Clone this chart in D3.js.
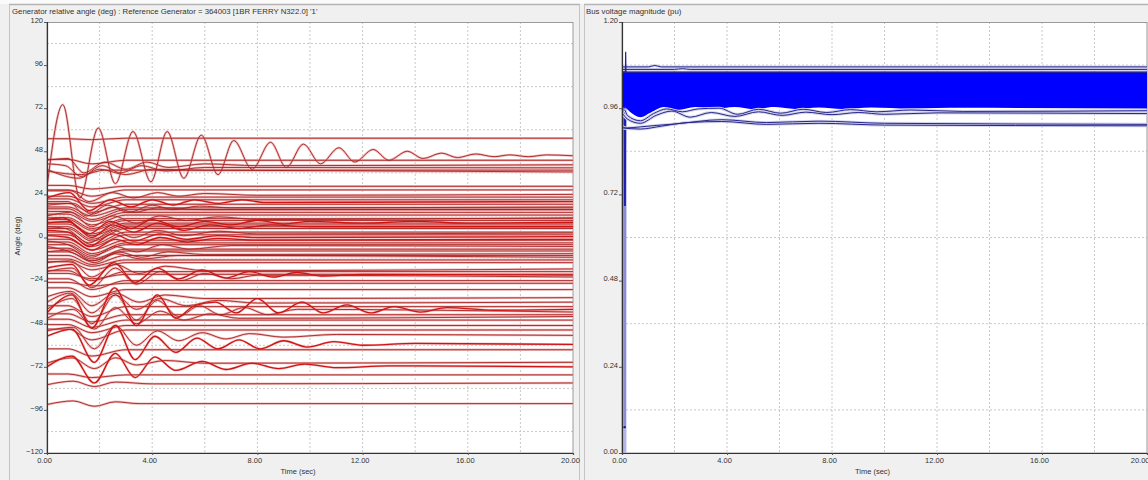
<!DOCTYPE html>
<html><head><meta charset="utf-8">
<script src="https://cdn.jsdelivr.net/npm/d3@7"></script>
<style>
html,body{margin:0;padding:0;background:#f0f0f0;}
svg{display:block;font-family:"Liberation Sans",Arial,sans-serif;}
</style></head>
<body><svg id="c" width="1148" height="480"></svg>
<script>
// ---------------- DATA ----------------
const timeTicks = [0, 4, 8, 12, 16, 20];
const angleTicks = [120, 96, 72, 48, 24, 0, -24, -48, -72, -96, -120];
const voltTicks = [1.20, 0.96, 0.72, 0.48, 0.24, 0.00];
const leftTitle = "Generator relative angle (deg) : Reference Generator = 364003 [1BR FERRY N322.0] '1'";
const rightTitle = "Bus voltage magnitude (pu)";

// near-flat generator angle traces: [start, value at first swing (~1.7 s), settled]
const angleFlatStart  = [55, 43.5, 29, 26.5, 23, 21.5, 19, 17, 16, 14.5, 13, 11, 10, 8.5, 7.5, 6, 5, 3, 1.5, -1, -2.5, -4, -6, -8, -10, -12, -13.5, -18.5, -20, -23, -25, -28, -38, -42.5, -45.5, -48.5, -51, -62, -76];
const angleFlatSwing  = [54.5, 41, 27, 23, 19, 17, 14, 12, 10, 9, 7, 5, 4, 2, 1, -1, -2, -4, -5, -7, -9, -10, -12, -13, -15, -16, -18, -24, -23, -29, -27, -33, -44, -47, -50, -53, -57, -66, -78];
const angleFlatSettle = [55.3, 43, 28.5, 26.5, 22.5, 21, 18.5, 16.5, 15.5, 14, 12.5, 10.5, 9.5, 8, 7, 6, 5, 3, 1.5, -1.5, -3, -4, -6.5, -7.5, -10, -12.5, -14, -19, -20.5, -24, -25.5, -29, -38.5, -43, -46, -49, -51.5, -62.5, -76.5];

// oscillating generator angle traces [time s, angle deg]
const genBigSwing = [[0,28],[0.6,74],[1.25,22],[1.95,61],[2.6,30],[3.27,59],[3.95,31],[4.57,59],[5.2,33],[5.87,57],[6.5,35],[7.1,54],[7.8,38],[8.5,53],[9.1,39],[9.75,52],[10.4,41],[11.1,50],[11.7,42],[12.4,49],[13.0,43],[13.7,48],[14.3,44],[15.0,47],[15.6,44.5],[16.3,46.5],[17,45],[17.6,46],[18.3,45],[19,46],[20,45.5]];
const gen40a = [[0,43],[0.8,44],[1.4,36],[2.2,42],[3,38],[3.8,42],[4.6,39],[6,41],[8,40],[20,40.5]];
const gen40b = [[0,41],[0.7,40],[1.3,34],[2.1,40],[2.8,36],[3.6,40],[4.5,37],[6,39],[20,38.8]];
const gen40c = [[0,38],[1.2,33],[2,38],[3,35],[4,38],[6,37.5],[20,37.5]];
const gen40d = [[0,37],[1.3,35],[2.2,37.5],[20,36.5]];
const gen25 = [[0,26],[0.9,26],[1.6,20],[2.5,25],[3.3,22],[4.2,25],[5,23],[6,24.5],[8,23.5],[20,24]];
const gen20a = [[0,22],[0.85,25],[1.6,15],[2.4,21],[3.2,17],[4,21],[4.8,18],[5.6,21],[6.5,19],[7.4,21],[8.3,19.5],[20,20]];
const gen20b = [[0,20],[0.8,20],[1.5,12],[2.3,18],[3.1,14],[4,18],[4.8,15.5],[5.8,17.5],[7,16.5],[20,17]];
const gen15 = [[0,18],[1,19],[1.7,13],[2.5,17],[3.3,14],[4.2,16.5],[6,15.5],[20,15.5]];
const gen12 = [[0,12],[0.9,14],[1.7,6],[2.5,12],[3.4,8],[4.3,12],[5.3,9.5],[6.5,11.5],[8,10],[20,11]];
const gen9 = [[0,10],[0.6,11],[1.6,2],[2.4,9],[3.2,5],[4,10],[5,6],[6,9],[7,7],[8,9.5],[9,7.5],[10,9],[12,8],[14,9],[16,8],[20,8.5]];
const gen6 = [[0,8],[0.8,9],[1.7,0],[2.5,7],[3.3,3],[4.2,8],[5.2,4],[6.2,7],[7.3,5],[8.5,7],[10,6],[20,6]];
const gen3 = [[0,6],[0.7,5],[1.6,-3],[2.5,4],[3.3,0],[4.2,4],[5.2,1],[6.5,3.5],[8,2],[20,2.5]];
const gen0a = [[0,4],[0.8,3],[1.6,-5],[2.5,2],[3.3,-2],[4.3,2],[5.3,-1],[6.5,1],[8,0],[20,0.5]];
const gen0b = [[0,1],[0.8,0],[1.7,-7],[2.6,-1],[3.4,-4],[4.3,0],[5.3,-2.5],[6.5,-0.5],[8,-1.5],[20,-1]];
const genM5 = [[0,-2],[0.8,-4],[1.7,-11],[2.6,-5],[3.4,-8],[4.4,-4],[5.4,-6.5],[7,-4.5],[20,-5]];
const genM9 = [[0,-5],[0.9,-8],[1.8,-14],[2.7,-8],[3.6,-11],[4.6,-8],[6,-9.5],[20,-9]];
const genM11 = [[0,-8],[0.9,-7],[1.7,-13],[2.6,-9],[3.6,-12],[5,-10],[20,-11]];
const genM21a = [[0,-17],[0.95,-15],[1.6,-26.5],[2.55,-14],[3.35,-25],[4.2,-17],[5,-23],[5.9,-18],[6.8,-22.5],[7.7,-19],[8.6,-22],[9.5,-19.5],[10.5,-21.5],[12,-20.5],[20,-21]];
const genM21b = [[0,-19],[0.95,-17],[1.7,-28],[2.6,-17],[3.4,-26],[4.3,-19],[5.1,-24],[6,-20],[7,-23],[8,-21],[20,-22]];
const genM17 = [[0,-14],[0.9,-13],[1.7,-22],[2.6,-15],[3.5,-20],[4.5,-16],[6,-18.5],[20,-17.5]];
const genM40a = [[0,-42],[0.95,-32],[1.7,-50.5],[2.57,-28],[3.4,-49],[4.2,-32],[4.9,-45],[5.6,-38],[6.4,-36],[7.2,-42],[8,-34],[8.8,-42],[9.7,-36],[10.5,-42],[11.4,-37.5],[12.3,-42],[13.2,-38.5],[14.2,-41.5],[15.2,-39],[17,-40.5],[20,-40]];
const genM40b = [[0,-40],[0.95,-34],[1.7,-48],[2.6,-32],[3.4,-46],[4.2,-35],[5,-44],[5.8,-38],[6.6,-43],[7.5,-39],[8.4,-43],[9.5,-40],[20,-41.5]];
const genM44 = [[0,-45],[1,-40],[1.8,-51],[2.6,-39],[3.4,-48],[4.3,-41],[5.2,-46],[6.2,-42.5],[7.3,-45],[20,-44]];
const genM36 = [[0,-36],[0.9,-31],[1.7,-42],[2.6,-32],[3.4,-40],[4.3,-34],[5.3,-38],[6.5,-35],[8,-36.5],[20,-36]];
const genM33 = [[0,-33],[0.9,-30],[1.7,-38],[2.6,-31],[3.5,-36],[4.5,-32],[6,-34],[20,-33.5]];
const genM59 = [[0,-55],[0.95,-51],[1.8,-69.5],[2.6,-49],[3.35,-68],[4.1,-55],[4.9,-64],[5.7,-56],[6.5,-62],[7.3,-57],[8.1,-62],[9,-57.5],[9.9,-61],[10.9,-58],[12,-60],[14,-59],[20,-59.5]];
const genM54 = [[0,-52],[1,-50],[1.8,-62],[2.6,-49],[3.4,-60],[4.2,-52],[5,-57.5],[5.9,-53],[6.8,-56.5],[7.7,-53.5],[9,-55.5],[11,-54],[20,-54.5]];
const genM72 = [[0,-72],[0.95,-66],[1.8,-81],[2.6,-64.5],[3.35,-78],[4.1,-66.5],[4.9,-74],[5.9,-69],[6.8,-73.5],[7.8,-70],[8.8,-73],[9.8,-70.5],[11,-72.5],[13,-71.5],[20,-72]];
const genM70 = [[0,-70],[0.95,-67],[1.8,-73],[2.6,-67],[3.4,-71],[4.5,-68.5],[6,-70],[20,-69.5]];
const genM81 = [[0,-82],[1,-80],[1.8,-83],[2.6,-80.5],[4,-81.5],[20,-81]];
const genM93 = [[0,-93],[1,-91],[1.8,-94],[2.6,-91.5],[3.5,-92.5],[20,-92.5]];

// bus voltage: dense band envelope [time s, pu]
const busBandUpper = [[0,1.061],[0.09,1.061],[0.2,1.060],[20,1.060]];
const busBandLower = [[0,0.962],[0.1,0.962],[0.3,0.950],[0.7,0.935],[1.1,0.948],[1.6,0.963],[2.1,0.955],[2.8,0.963],[3.5,0.958],[4.3,0.963],[5,0.957],[5.8,0.963],[6.6,0.958],[7.5,0.962],[8.4,0.958],[9.5,0.962],[11,0.959],[13,0.961],[20,0.959]];
// individual bus voltage traces
const busTop1 = [[0,1.075],[1.0,1.075],[1.25,1.079],[1.5,1.075],[20,1.075]];
const busTop2 = [[0,1.068],[2.0,1.068],[2.3,1.070],[2.6,1.068],[20,1.068]];
const busWave1 = [[0,0.955],[0.1,0.955],[0.2,0.940],[0.7,0.925],[1.2,0.945],[1.7,0.958],[2.3,0.950],[2.9,0.958],[3.7,0.960],[4.4,0.943],[5.2,0.957],[6.05,0.946],[6.9,0.957],[7.8,0.948],[8.7,0.956],[9.7,0.950],[11,0.955],[13,0.951],[20,0.953]];
const busWave2 = [[0,0.948],[0.2,0.930],[0.7,0.918],[1.3,0.940],[1.9,0.952],[2.6,0.935],[3.4,0.948],[4.3,0.937],[5.2,0.950],[6.1,0.940],[7,0.949],[8,0.942],[9,0.948],[10,0.943],[12,0.947],[20,0.945]];
const busLow1 = [[0,0.910],[0.15,0.905],[0.7,0.908],[1.3,0.912],[2,0.916],[3.8,0.928],[5.5,0.920],[7.5,0.924],[10,0.918],[20,0.915]];
const busLow2 = [[0,0.905],[0.7,0.902],[1.5,0.910],[2.5,0.920],[3.8,0.923],[5.5,0.915],[7.5,0.918],[10,0.913],[20,0.911]];
// fault transient traces
const busFaultSpike = [[0,1.060],[0.13,1.060],[0.14,1.117],[0.15,1.060],[20,1.060]];
const busFaultDeep = [[0,0.980],[0.08,0.980],[0.09,0.0],[0.12,0.0],[0.13,0.960]];
const busFaultMid = [[0,0.990],[0.08,0.990],[0.09,0.072],[0.12,0.072],[0.13,0.960]];
const busFaultShallow = [[0,0.960],[0.09,0.960],[0.1,0.690],[0.12,0.690],[0.13,0.950]];

// ---------------- DRAW ----------------
const svg = d3.select("#c");
const W = 1148, H = 480;
const FONT = "Liberation Sans, Arial, sans-serif";

// window chrome
svg.append("rect").attr("x",0).attr("y",0).attr("width",W).attr("height",H).attr("fill","#f0f0f0");
svg.append("rect").attr("x",0).attr("y",0).attr("width",W).attr("height",4).attr("fill","#fafafa");
[[9,580],[584,1160]].forEach(([a,b])=>{
  svg.append("line").attr("x1",a).attr("x2",b).attr("y1",4.5).attr("y2",4.5).attr("stroke","#b4b4b4").attr("stroke-width",1.5);
  svg.append("line").attr("x1",a+0.5).attr("x2",a+0.5).attr("y1",5).attr("y2",H).attr("stroke","#c4c4c4");
});
svg.append("line").attr("x1",579.5).attr("x2",579.5).attr("y1",5).attr("y2",H).attr("stroke","#c4c4c4");

function panel(opts){
  const g = svg.append("g");
  const x = d3.scaleLinear().domain([0,20]).range([opts.x0, opts.x1]);
  const y = d3.scaleLinear().domain(opts.ydom).range([453, 22]);
  g.append("rect").attr("x",opts.x0).attr("y",22).attr("width",opts.x1-opts.x0).attr("height",431).attr("fill","#fff");
  // grid
  const gx = d3.range(2,20,2), gy = opts.gridY;
  g.selectAll(".gx").data(gx).join("line").attr("x1",d=>x(d)).attr("x2",d=>x(d)).attr("y1",22).attr("y2",453)
    .attr("stroke","#c8c8c8").attr("stroke-dasharray","2,2");
  g.selectAll(".gy").data(gy).join("line").attr("x1",opts.x0).attr("x2",opts.x1).attr("y1",d=>y(d)).attr("y2",d=>y(d))
    .attr("stroke","#c8c8c8").attr("stroke-dasharray","2,2");
  // frame
  g.append("rect").attr("x",opts.x0).attr("y",22.5).attr("width",opts.x1-opts.x0).attr("height",430.5)
    .attr("fill","none").attr("stroke","#9a9a9a");
  const clip = "clip"+opts.id;
  svg.append("clipPath").attr("id",clip).append("rect").attr("x",opts.x0).attr("y",22).attr("width",opts.x1-opts.x0+1).attr("height",432);
  const plot = g.append("g").attr("clip-path",`url(#${clip})`);
  // axes
  const ay = g.append("g").attr("transform",`translate(${opts.x0},0)`)
    .call(d3.axisLeft(y).tickValues(opts.yticks).tickFormat(opts.yfmt).tickSize(3).tickPadding(1));
  const ax = g.append("g").attr("transform",`translate(0,453)`)
    .call(d3.axisBottom(x).tickValues(timeTicks).tickFormat(d3.format(".2f")).tickSize(2).tickPadding(3));
  [ay,ax].forEach(a=>{
    a.select(".domain").attr("stroke","#333").attr("stroke-width",1.2);
    a.selectAll(".tick line").attr("stroke","#555");
    a.selectAll("text").attr("font-size","7.5px").attr("fill","#333").attr("font-family",FONT);
  });
  ay.selectAll("text").attr("dy","0.05em");
  ax.selectAll("text").attr("dx","-3");
  if (opts.lastEnd) ax.selectAll(".tick:last-of-type text").attr("text-anchor","end").attr("dx","2");
  g.append("text").attr("x",(opts.x0+opts.x1)/2 - 12).attr("y",474).attr("text-anchor","middle")
    .attr("font-size","7.5px").attr("fill","#333").attr("font-family",FONT).text("Time (sec)");
  g.append("text").attr("x",opts.tx).attr("y",14).attr("font-size","7.8px").attr("fill","#333").attr("font-family",FONT).text(opts.title);
  return {x,y,plot};
}

// ---- left: generator angles
const L = panel({id:"L", x0:47, x1:573, ydom:[-120,120], yticks:angleTicks, yfmt:d3.format("d"),
  gridY:d3.range(-108,120,24), title:leftTitle, tx:12});
svg.append("text").attr("transform","translate(20,236) rotate(-90)").attr("text-anchor","middle")
  .attr("font-size","7.5px").attr("fill","#333").attr("font-family",FONT).text("Angle (deg)");

const lineL = d3.line().x(d=>L.x(d[0])).y(d=>L.y(d[1])).curve(d3.curveMonotoneX);
const flatSeries = angleFlatStart.map((s,i)=>[[0,s],[0.8,s],[1.7,angleFlatSwing[i]],[3,angleFlatSettle[i]],[20,angleFlatSettle[i]]]);
const thinOsc = [gen40a,gen40b,gen40c,gen40d,gen25,gen20b,gen15,gen12,gen3,genM5,genM9,genM11,genM21b,genM17,genM40b,genM44,genM36,genM33,genM54,genM70,genM81,genM93,genBigSwing];
const boldOsc = [gen20a,gen9,gen6,gen0a,gen0b,genM21a,genM40a,genM59,genM72];
const allRed = flatSeries.concat(thinOsc);
L.plot.selectAll(".halo").data(allRed.concat(boldOsc)).join("path").attr("d",lineL)
  .attr("fill","none").attr("stroke","#f0bcbc").attr("stroke-width",2.4);
L.plot.selectAll(".rl").data(allRed).join("path").attr("d",lineL)
  .attr("fill","none").attr("stroke","#a82020").attr("stroke-width",0.9);
L.plot.selectAll(".rb").data(boldOsc).join("path").attr("d",lineL)
  .attr("fill","none").attr("stroke","#d01414").attr("stroke-width",1.3);

// ---- right: bus voltages
const R = panel({id:"R", x0:622, x1:1147, ydom:[0,1.2], yticks:voltTicks, yfmt:d3.format(".2f"),
  gridY:[0.12,0.36,0.60,0.84,1.08], title:rightTitle, tx:586, lastEnd:true});
const lineR = d3.line().x(d=>R.x(d[0])).y(d=>R.y(d[1])).curve(d3.curveMonotoneX);
const lineRlin = d3.line().x(d=>R.x(d[0])).y(d=>R.y(d[1]));
// fault traces
R.plot.append("path").attr("d",lineRlin(busFaultDeep)).attr("fill","none").attr("stroke","#b4b4e6").attr("stroke-width",2.5);
R.plot.append("path").attr("d",lineRlin(busFaultMid)).attr("fill","none").attr("stroke","#8c8cd2").attr("stroke-width",1.5);
R.plot.append("path").attr("d",lineRlin(busFaultShallow)).attr("fill","none").attr("stroke","#2020b0").attr("stroke-width",1.5);
R.plot.append("circle").attr("cx",R.x(0.1)).attr("cy",R.y(0.072)).attr("r",1.2).attr("fill","#1a1a8a");
// band
const area = d3.area().x(d=>R.x(d[0])).y0(d=>R.y(d.lo)).y1(d=>R.y(d.hi)).curve(d3.curveMonotoneX);
const bandTop = busBandUpper[busBandUpper.length-1][1];
const bandPts = busBandLower.map(d=>{ const p=[d[0]]; p.lo=d[1]; p.hi=bandTop; return p; });
R.plot.append("path").attr("d",area(bandPts)).attr("fill","#0000ff");
R.plot.append("path").attr("d",lineR(busBandUpper)).attr("fill","none").attr("stroke","#1010d0").attr("stroke-width",1.5);
const blueTraces = [busTop1,busTop2,busWave1,busWave2,busLow1,busLow2];
R.plot.selectAll(".bh").data(blueTraces).join("path").attr("d",lineR)
  .attr("fill","none").attr("stroke","#d4d4ec").attr("stroke-width",3);
R.plot.selectAll(".bl").data(blueTraces).join("path").attr("d",lineR)
  .attr("fill","none").attr("stroke","#26268e").attr("stroke-width",1);
R.plot.append("path").attr("d",lineRlin(busFaultSpike)).attr("fill","none").attr("stroke","#2222a0").attr("stroke-width",1.2);
</script></body></html>
